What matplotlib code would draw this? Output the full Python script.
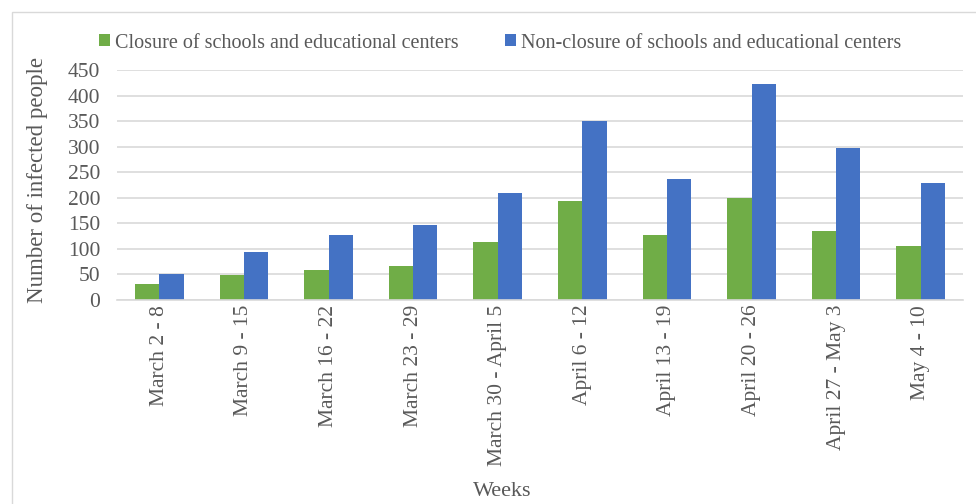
import numpy as np
import matplotlib.pyplot as plt
from matplotlib.patches import Rectangle

weeks = ["March 2 - 8", "March 9 - 15", "March 16 - 22", "March 23 - 29",
         "March 30 - April 5", "April 6 - 12", "April 13 - 19", "April 20 - 26",
         "April 27 - May 3", "May 4 - 10"]
closure = [31, 48, 58, 67, 114, 194, 128, 200, 135, 106]
non_closure = [50, 93, 128, 147, 210, 351, 236, 422, 297, 228]

plt.rcParams['font.family'] = ['Liberation Serif', 'DejaVu Serif']
txt = '#595959'

fig = plt.figure(figsize=(9.76, 5.04), dpi=100)
fig.patches.append(Rectangle((12 / 976, -0.1), 1.0, (504 - 12) / 504 + 0.1,
                             transform=fig.transFigure, fill=False,
                             edgecolor='#d9d9d9', linewidth=1))
ax = fig.add_axes([117 / 976, 1 - 300 / 504, (963 - 117) / 976, 230 / 504])

x = np.arange(len(weeks))
w = 0.287
ax.bar(x - w / 2, closure, w, color='#70ad47', label='Closure of schools and educational centers')
ax.bar(x + w / 2, non_closure, w, color='#4472c4', label='Non-closure of schools and educational centers')

ax.set_xlim(-0.5, len(weeks) - 0.5)
ax.set_ylim(0, 450)
ax.set_yticks(range(0, 451, 50))
ax.yaxis.grid(True, color='#d9d9d9', linewidth=1.2)
ax.set_axisbelow(True)
for s in ['top', 'right', 'left']:
    ax.spines[s].set_visible(False)
ax.spines['bottom'].set_color('#d9d9d9')
ax.spines['bottom'].set_linewidth(1.2)
ax.tick_params(length=0, labelsize=15.5, colors=txt)
ax.tick_params(axis='y', pad=12)
ax.set_xticks(x)
ax.set_xticklabels(weeks, rotation=90)
ax.set_ylabel('Number of infected people', fontsize=16.5, color=txt)
ax.yaxis.set_label_coords(-69 / 846, 0.52)
ax.set_xlabel('Weeks', fontsize=16, color=txt)
ax.xaxis.set_label_coords((502 - 117) / 846, (300 - 482) / 230)

fig.legend(loc='center', bbox_to_anchor=(500 / 976, 1 - 43 / 504), ncol=2, frameon=False,
           fontsize=14.5, labelcolor=txt, handlelength=0.55, handleheight=0.55,
           handletextpad=0.25, columnspacing=2.3)

fig.savefig('out.png', dpi=100)
